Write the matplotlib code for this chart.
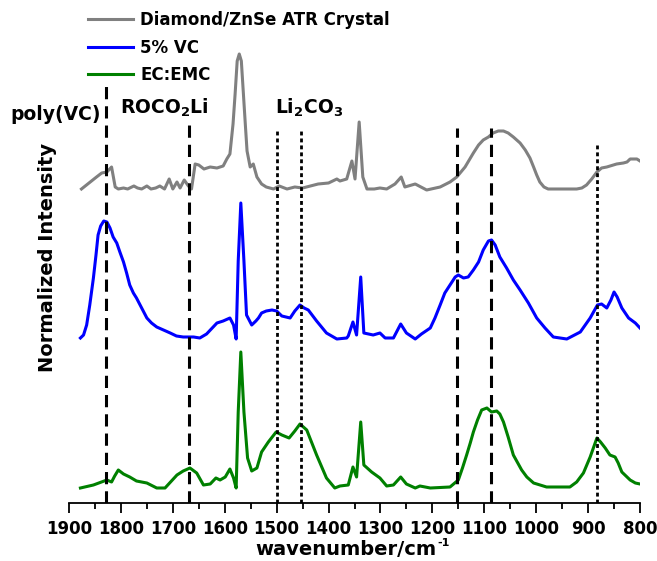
import numpy as np
import matplotlib
matplotlib.use('Agg')
import matplotlib.pyplot as plt
from matplotlib.ticker import MultipleLocator

plt.rcParams['font.family'] = ['DejaVu Sans']
plt.rcParams['font.weight'] = 'bold'

# spectra (wavenumber, intensity above own baseline)
wn_atr = [1876, 1847, 1837, 1827, 1818, 1811, 1805, 1795, 1787, 1775, 1768, 1760,
          1750, 1742, 1733, 1725, 1716, 1707, 1700, 1692, 1686, 1678, 1670, 1664,
          1657, 1650, 1640, 1628, 1615, 1603, 1596, 1590, 1584, 1580, 1576, 1572,
          1568, 1564, 1560, 1557, 1551, 1545, 1538, 1529, 1520, 1506, 1495, 1480,
          1465, 1450, 1435, 1420, 1400, 1384, 1378, 1365, 1355, 1349, 1341, 1334,
          1326, 1312, 1301, 1288, 1272, 1260, 1253, 1233, 1211, 1185, 1166, 1153,
          1137, 1121, 1111, 1102, 1092, 1083, 1073, 1063, 1054, 1044, 1031, 1021,
          1012, 1005, 999, 993, 985, 977, 950, 922, 912, 903, 893, 883, 874, 864,
          845, 832, 825, 819, 806, 800]
int_atr = [0.00, 0.12, 0.16, 0.17, 0.22, 0.02, 0.00, 0.01, 0.00, 0.03, 0.01, 0.00,
           0.03, 0.00, 0.01, 0.03, 0.00, 0.10, 0.00, 0.07, 0.01, 0.09, 0.03, 0.00,
           0.25, 0.24, 0.20, 0.22, 0.21, 0.23, 0.30, 0.35, 0.65, 0.95, 1.28, 1.35,
           1.28, 0.95, 0.62, 0.38, 0.22, 0.25, 0.12, 0.05, 0.02, 0.00, 0.03, 0.00,
           0.02, 0.01, 0.03, 0.05, 0.06, 0.10, 0.08, 0.10, 0.28, 0.10, 0.67, 0.12,
           0.00, 0.00, 0.01, 0.00, 0.05, 0.12, 0.02, 0.05, -0.01, 0.02, 0.07, 0.12,
           0.22, 0.36, 0.44, 0.49, 0.52, 0.56, 0.58, 0.58, 0.56, 0.52, 0.46, 0.39,
           0.31, 0.22, 0.14, 0.07, 0.02, 0.00, 0.00, 0.00, 0.01, 0.04, 0.10, 0.17,
           0.21, 0.22, 0.25, 0.26, 0.27, 0.30, 0.30, 0.28]

wn_vc = [1878, 1872, 1866, 1860, 1853, 1848, 1844, 1839, 1833, 1827, 1821, 1815,
         1808, 1802, 1795, 1789, 1783, 1776, 1770, 1760, 1750, 1741, 1731, 1718,
         1705, 1693, 1680, 1660, 1648, 1635, 1615, 1603, 1590, 1583, 1578, 1574,
         1569, 1563, 1558, 1548, 1540, 1535, 1529, 1520, 1509, 1500, 1490, 1474,
         1465, 1455, 1447, 1439, 1423, 1404, 1384, 1365, 1362, 1353, 1346, 1338,
         1332, 1314, 1301, 1291, 1275, 1261, 1250, 1233, 1221, 1204, 1195, 1185,
         1176, 1166, 1156, 1150, 1140, 1131, 1121, 1111, 1102, 1092, 1086, 1079,
         1070, 1057, 1044, 1031, 1015, 999, 983, 967, 941, 915, 896, 882, 874,
         864, 856, 850, 844, 835, 822, 809, 800]
int_vc = [0.00, 0.03, 0.13, 0.33, 0.60, 0.83, 1.03, 1.12, 1.17, 1.16, 1.10, 1.01,
          0.95, 0.86, 0.76, 0.65, 0.53, 0.45, 0.40, 0.30, 0.20, 0.15, 0.11, 0.08,
          0.05, 0.02, 0.01, 0.01, 0.00, 0.04, 0.15, 0.17, 0.20, 0.13, -0.01, 0.77,
          1.35, 0.77, 0.23, 0.13, 0.17, 0.20, 0.25, 0.27, 0.28, 0.27, 0.22, 0.20,
          0.27, 0.33, 0.30, 0.28, 0.17, 0.05, -0.01, 0.00, 0.02, 0.16, 0.03, 0.61,
          0.05, 0.03, 0.05, 0.00, 0.00, 0.14, 0.05, -0.01, 0.04, 0.10, 0.20, 0.33,
          0.45, 0.53, 0.61, 0.63, 0.60, 0.61, 0.68, 0.76, 0.88, 0.97, 0.98, 0.93,
          0.81, 0.70, 0.58, 0.48, 0.35, 0.20, 0.10, 0.01, -0.01, 0.06, 0.20, 0.33,
          0.34, 0.30, 0.38, 0.46, 0.41, 0.30, 0.20, 0.15, 0.10]

wn_ec = [1878, 1853, 1827, 1818, 1812, 1805, 1795, 1783, 1770, 1750, 1731, 1715,
         1692, 1680, 1667, 1654, 1641, 1628, 1617, 1609, 1599, 1590, 1583, 1578,
         1574, 1569, 1563, 1556, 1548, 1538, 1529, 1516, 1501, 1490, 1476, 1465,
         1455, 1442, 1423, 1404, 1388, 1378, 1362, 1353, 1346, 1338, 1332, 1317,
         1301, 1288, 1275, 1261, 1250, 1233, 1224, 1204, 1166, 1150, 1142, 1134,
         1127, 1121, 1113, 1105, 1095, 1086, 1076, 1070, 1063, 1054, 1044, 1028,
         1018, 1005, 980, 935, 922, 909, 896, 883, 876, 867, 858, 848, 842, 835,
         819, 809, 800]
int_ec = [0.00, 0.03, 0.08, 0.06, 0.12, 0.18, 0.14, 0.11, 0.07, 0.05, 0.00, 0.00,
          0.13, 0.17, 0.20, 0.15, 0.03, 0.04, 0.10, 0.08, 0.11, 0.19, 0.10, 0.00,
          0.76, 1.36, 0.76, 0.30, 0.17, 0.20, 0.36, 0.46, 0.56, 0.53, 0.50, 0.57,
          0.64, 0.58, 0.33, 0.10, 0.00, 0.02, 0.03, 0.21, 0.11, 0.66, 0.23, 0.16,
          0.10, 0.02, 0.03, 0.11, 0.04, 0.00, 0.02, 0.00, 0.01, 0.08, 0.20, 0.33,
          0.45, 0.56, 0.68, 0.78, 0.80, 0.76, 0.77, 0.74, 0.66, 0.51, 0.33, 0.18,
          0.11, 0.05, 0.01, 0.01, 0.06, 0.15, 0.31, 0.50, 0.46, 0.40, 0.33, 0.31,
          0.25, 0.16, 0.08, 0.05, 0.04]

offsets = [3.14, 1.65, 0.15]
labels = ['Diamond/ZnSe ATR Crystal', '5% VC', 'EC:EMC']
colors = ['#808080', '#0000ff', '#008000']

# marker lines
dash_pos = [1828, 1668, 1152, 1088]
dash_top = [4.17, 3.79, 3.75, 3.75]
dot_pos = [1500, 1454, 883]
dot_top = [3.75, 3.75, 3.58]

W, H = 657, 561
fig = plt.figure(figsize=(W / 100, H / 100), dpi=100)
ax = fig.add_axes([69 / W, (H - 503) / H, 571 / W, 503 / H])

for wn, y, off, c, lab in zip([wn_atr, wn_vc, wn_ec], [int_atr, int_vc, int_ec],
                              offsets, colors, labels):
    ax.plot(wn, np.array(y) + off, color=c, lw=2.2, label=lab, solid_joinstyle='round')

for p, t in zip(dash_pos, dash_top):
    ax.plot([p, p], [0, t], color='black', lw=2.2, ls=(0, (4, 2.3)))
for p, t in zip(dot_pos, dot_top):
    ax.plot([p, p], [0, t], color='black', lw=2.0, ls=(0, (1.4, 1.1)))

ax.set_xlim(1900, 800)
ax.set_ylim(0, 5.03)
ax.xaxis.set_major_locator(MultipleLocator(100))
ax.xaxis.set_minor_locator(MultipleLocator(50))
ax.tick_params(axis='x', which='major', length=7, width=1.3, labelsize=12, pad=5)
ax.tick_params(axis='x', which='minor', length=4, width=1.3)
ax.set_yticks([])
for s in ['top', 'right', 'left']:
    ax.spines[s].set_visible(False)
ax.spines['bottom'].set_linewidth(1.3)

# x label with a plain hyphen superscript
fig.text(436 / W, 1 - 555 / H, 'wavenumber/cm', fontsize=14, fontweight='bold',
         ha='right', va='baseline')
fig.text(437 / W, 1 - 546 / H, '-1', fontsize=8, fontweight='bold',
         ha='left', va='baseline')
fig.text(48 / W, 1 - 257 / H, 'Normalized Intensity', rotation=90, fontsize=14,
         fontweight='bold', ha='center', va='center')

fig.text(10 / W, 1 - 120.5 / H, 'poly(VC)', fontsize=13.5, fontweight='bold', va='baseline')
fig.text(120 / W, 1 - 113.5 / H, 'ROCO$_{\\mathbf{2}}$Li', fontsize=13.5, fontweight='bold', va='baseline')
fig.text(275 / W, 1 - 113.5 / H, 'Li$_{\\mathbf{2}}$CO$_{\\mathbf{3}}$', fontsize=13.5, fontweight='bold', va='baseline')

leg = fig.legend(loc='upper left', bbox_to_anchor=(88 / W, 1 - 11 / H),
                 frameon=False, fontsize=12, handlelength=2.7, handletextpad=0.42,
                 labelspacing=0.58, borderpad=0, borderaxespad=0)

plt.savefig('out.png', dpi=100)
